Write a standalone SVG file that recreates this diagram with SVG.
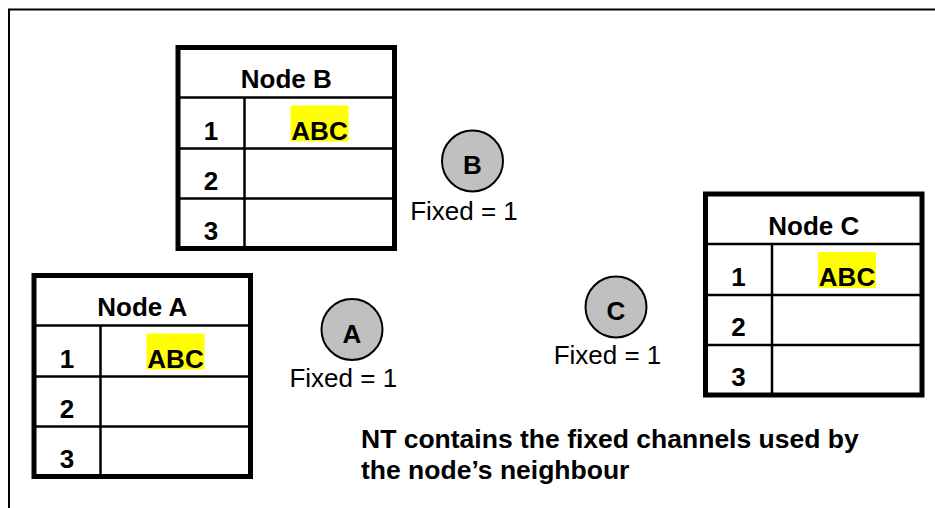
<svg xmlns="http://www.w3.org/2000/svg" width="935" height="508" viewBox="0 0 935 508">
  <style>
    .outer { fill: #ffffff; stroke: #000000; stroke-width: 5; }
    .inner { stroke: #000000; stroke-width: 2.5; fill: none; }
    .frame { fill: none; stroke: #000000; stroke-width: 2; }
    .bold { font-family: "Liberation Sans", Arial, sans-serif; font-weight: bold; font-size: 26px; fill: #000000; }
    .reg { font-family: "Liberation Sans", Arial, sans-serif; font-size: 26px; fill: #000000; }
    .cap { font-size: 26.5px; }
    .mid { text-anchor: middle; }
    .hl { fill: #ffff00; }
    .node { fill: #c0c0c0; stroke: #000000; stroke-width: 2; }
  </style>
  <defs>
    <g id="tableShape">
      <rect class="outer" x="0" y="0" width="216.5" height="201"/>
      <line class="inner" x1="0" y1="50" x2="216.5" y2="50"/>
      <line class="inner" x1="0" y1="101" x2="216.5" y2="101"/>
      <line class="inner" x1="0" y1="151" x2="216.5" y2="151"/>
      <line class="inner" x1="66.5" y1="50" x2="66.5" y2="201"/>
      <rect class="hl" x="112.5" y="58" width="58" height="36"/>
      <text class="bold mid" x="33" y="92">1</text>
      <text class="bold mid" x="33" y="142">2</text>
      <text class="bold mid" x="33" y="192">3</text>
      <text class="bold mid" x="141.5" y="92">ABC</text>
    </g>
  </defs>
  <rect x="0" y="0" width="935" height="508" fill="#ffffff"/>
  <path class="frame" d="M9,508 V9.5 H935"/>

  <g id="connectors"></g>

  <g id="table-node-b" transform="translate(178,47.5)">
    <use href="#tableShape"/>
    <text class="bold mid" x="108.25" y="40.5">Node B</text>
  </g>

  <g id="table-node-a" transform="translate(34,275.5)">
    <use href="#tableShape"/>
    <text class="bold mid" x="108.25" y="40.5">Node A</text>
  </g>

  <g id="table-node-c" transform="translate(705.5,194)">
    <use href="#tableShape"/>
    <text class="bold mid" x="108.25" y="40.5">Node C</text>
  </g>

  <g id="node-b">
    <circle class="node" cx="472.5" cy="161" r="30.5"/>
    <text class="bold mid" x="472.5" y="174">B</text>
    <text class="reg mid" x="464" y="219.5">Fixed = 1</text>
  </g>

  <g id="node-a">
    <circle class="node" cx="352" cy="329.5" r="30.5"/>
    <text class="bold mid" x="352" y="342.5">A</text>
    <text class="reg mid" x="343.3" y="387">Fixed = 1</text>
  </g>

  <g id="node-c">
    <circle class="node" cx="616" cy="307" r="30.5"/>
    <text class="bold mid" x="616" y="320">C</text>
    <text class="reg mid" x="607.5" y="364">Fixed = 1</text>
  </g>

  <g id="caption">
    <text class="bold cap" x="361" y="448">NT contains the fixed channels used by</text>
    <text class="bold cap" x="361" y="478.5">the node’s neighbour</text>
  </g>
</svg>
